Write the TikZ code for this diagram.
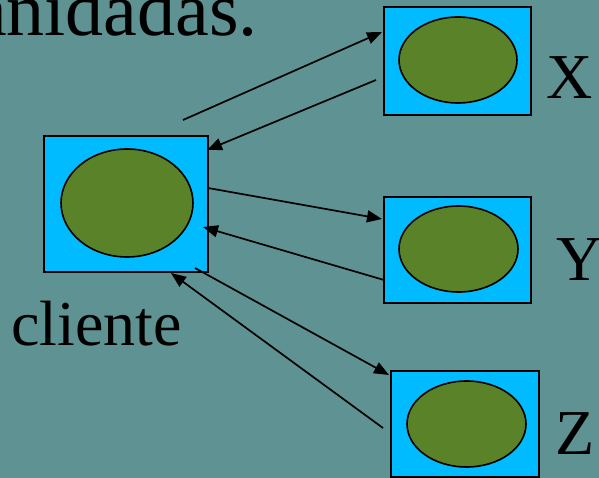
\documentclass[tikz,border=0pt]{standalone}
\usepackage{fontspec}
\setmainfont{Liberation Serif}
\usetikzlibrary{arrows.meta,calc,shapes.geometric}
\definecolor{bgteal}{RGB}{95,146,146}
\definecolor{boxcyan}{RGB}{0,187,255}
\definecolor{blobgreen}{RGB}{90,130,40}
\tikzset{
  server/.style={draw=black,line width=2pt,fill=boxcyan,rectangle,inner sep=0pt,outer sep=0pt},
  blob/.style={draw=black,line width=1.6pt,fill=blobgreen,ellipse,inner sep=0pt,outer sep=0pt},
  lbl/.style={inner sep=0pt,outer sep=0pt,anchor=base west,font=\fontsize{64}{70}\selectfont},
  msg/.style={line width=1.7pt,-{Triangle[length=15pt,width=12pt]}}
}
\begin{document}
\begin{tikzpicture}[x=1pt,y=-1pt]
\clip (0,0) rectangle (599,478);
\fill[bgteal] (0,0) rectangle (599,478);
\useasboundingbox (0,0) rectangle (599,478);
% title fragment
\node[lbl,font=\fontsize{76}{80}\selectfont] (title) at (-27,36) {anidadas.};
% boxes
\node[server,minimum width=164pt,minimum height=136pt] (cli) at (126,204) {};
\node[server,minimum width=147pt,minimum height=108pt] (X) at (457.5,61) {};
\node[server,minimum width=147pt,minimum height=106pt] (Y) at (457.5,250) {};
\node[server,minimum width=148pt,minimum height=106pt] (Z) at (465,424) {};
% blobs
\node[blob,minimum width=132pt,minimum height=108pt] (cliB) at (127,203) {};
\node[blob,minimum width=118pt,minimum height=86pt] (XB) at (458,60) {};
\node[blob,minimum width=119pt,minimum height=86pt] (YB) at (458.5,249) {};
\node[blob,minimum width=119pt,minimum height=86pt] (ZB) at (466.5,424) {};
% labels
\node[lbl] (cliL) at (11,345) {cliente};
\node[lbl] (XL) at (546,99) {X};
\node[lbl] (YL) at (556,280) {Y};
\node[lbl] (ZL) at (555,454) {Z};
% connector end points
\coordinate (a1s) at ($(cli.north east)+(-25,-16)$);
\coordinate (a1e) at ($(X.north west)+(-2,25)$);
\coordinate (a2s) at ($(X.north west)+(-8,73)$);
\coordinate (a2e) at ($(cli.north east)+(-1,14)$);
\coordinate (a3s) at ($(cli.north east)+(0,52)$);
\coordinate (a3e) at ($(Y.north west)+(-2,22)$);
\coordinate (a4s) at ($(Y.north west)+(0,83)$);
\coordinate (a4e) at ($(cli.north east)+(-5,91)$);
\coordinate (a5s) at ($(cli.south east)+(-13,-4)$);
\coordinate (a5e) at ($(Z.north west)+(-2,4)$);
\coordinate (a6s) at ($(Z.north west)+(-8,57)$);
\coordinate (a6e) at ($(cli.south east)+(-37,1)$);
% connectors
\draw[msg] (a1s) -- (a1e);
\draw[msg] (a2s) -- (a2e);
\draw[msg] (a3s) -- (a3e);
\draw[msg] (a4s) -- (a4e);
\draw[msg] (a5s) -- (a5e);
\draw[msg] (a6s) -- (a6e);
\end{tikzpicture}
\end{document}
